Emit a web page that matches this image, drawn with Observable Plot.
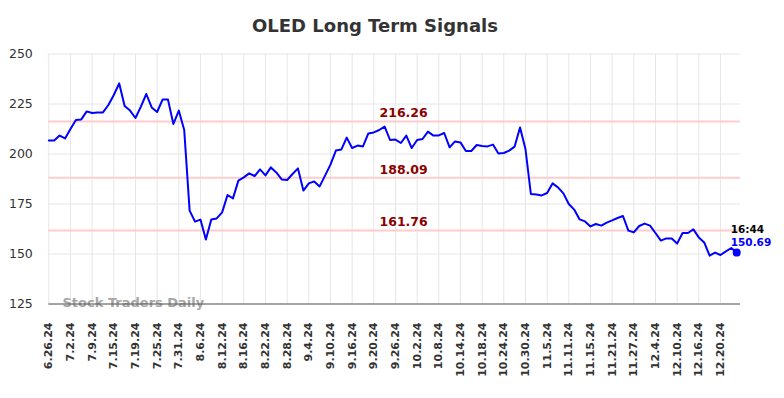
<!DOCTYPE html>
<html><head><meta charset="utf-8">
<script src="https://cdn.jsdelivr.net/npm/d3@7"></script>
<script src="https://cdn.jsdelivr.net/npm/@observablehq/plot@0.6"></script>
<style>
body{margin:0;background:#fff;font-family:"DejaVu Sans",sans-serif;}
#title{height:40px;position:relative;width:784px;}
#title span{position:absolute;left:375px;top:17px;transform:translateX(-50%);font-weight:bold;font-size:18px;line-height:18px;color:#333;white-space:nowrap;}
</style></head><body>
<div id="title"><span>OLED Long Term Signals</span></div>
<div id="chart"></div>
<script>
const dates = ["6.26.24","6.27.24","6.28.24","7.1.24","7.2.24","7.3.24","7.5.24","7.8.24","7.9.24","7.10.24",
"7.11.24","7.12.24","7.15.24","7.16.24","7.17.24","7.18.24","7.19.24","7.22.24","7.23.24","7.24.24",
"7.25.24","7.26.24","7.29.24","7.30.24","7.31.24","8.1.24","8.2.24","8.5.24","8.6.24","8.7.24",
"8.8.24","8.9.24","8.12.24","8.13.24","8.14.24","8.15.24","8.16.24","8.19.24","8.20.24","8.21.24",
"8.22.24","8.23.24","8.26.24","8.27.24","8.28.24","8.29.24","8.30.24","9.3.24","9.4.24","9.5.24",
"9.6.24","9.9.24","9.10.24","9.11.24","9.12.24","9.13.24","9.16.24","9.17.24","9.18.24","9.19.24",
"9.20.24","9.23.24","9.24.24","9.25.24","9.26.24","9.27.24","9.30.24","10.1.24","10.2.24","10.3.24",
"10.4.24","10.7.24","10.8.24","10.9.24","10.10.24","10.11.24","10.14.24","10.15.24","10.16.24","10.17.24",
"10.18.24","10.21.24","10.22.24","10.23.24","10.24.24","10.25.24","10.28.24","10.29.24","10.30.24","10.31.24",
"11.1.24","11.4.24","11.5.24","11.6.24","11.7.24","11.8.24","11.11.24","11.12.24","11.13.24","11.14.24",
"11.15.24","11.18.24","11.19.24","11.20.24","11.21.24","11.22.24","11.25.24","11.26.24","11.27.24","11.29.24",
"12.2.24","12.3.24","12.4.24","12.5.24","12.6.24","12.9.24","12.10.24","12.11.24","12.12.24","12.13.24",
"12.16.24","12.17.24","12.18.24","12.19.24","12.20.24","12.23.24","12.24.24","12.26.24"];
const values = [206.7,206.7,209.2,207.8,212.5,217,217.3,221.3,220.5,220.7,
220.8,224.5,229.5,235.3,224,221.7,218,223.7,230,223.3,
221,227.2,227.2,215,221.7,212,171.7,166.2,167.2,157.2,
167.2,167.8,170.8,179.5,177.8,186.7,188.3,190.3,189,192.3,
189.3,193.3,190.8,187.3,187,190,192.8,181.7,185.3,186.3,
183.8,189.2,194.7,201.7,202.2,208.2,203,204.2,203.8,210.3,
210.8,212,213.7,207,207.2,205.5,209.2,203,207,207.5,
211.2,209.2,209.3,210.5,203.3,206.3,205.8,201.5,201.5,204.5,
204,203.8,204.7,200.3,200.5,201.7,203.7,213.3,202.5,180,
179.8,179.3,180.5,185.3,183.3,180.3,175,172.2,167.3,166.3,
163.8,165,164.2,165.7,166.8,168,169,161.7,160.8,164,
165.2,164.2,160.5,156.7,157.8,157.7,155.2,160.5,160.5,162.3,
158.3,155.8,149.2,150.7,149.5,151.3,153,150.69];
const signalLevels = [216.26, 188.09, 161.76];
const yTicks = [125, 150, 175, 200, 225, 250];
const lastTime = "16:44";
const watermark = "Stock Traders Daily";

const data = values.map((v, i) => ({i, v, date: dates[i]}));
const last = data[data.length - 1];
const tickIdx = d3.range(0, dates.length, 4);

const chart = Plot.plot({
  width: 784, height: 358,
  marginTop: 13.5, marginBottom: 94.5, marginLeft: 48.3, marginRight: 44,
  style: {fontFamily: "DejaVu Sans", fontSize: "12px", color: "#333", background: "#fff"},
  x: {domain: [0, 127.7], label: null},
  y: {domain: [125, 250], label: null},
  marks: [
    Plot.gridX(tickIdx, {stroke: "#e6e6e6", strokeOpacity: 1, strokeWidth: 1}),
    Plot.gridY(yTicks, {stroke: "#e6e6e6", strokeOpacity: 1, strokeWidth: 1}),
    Plot.ruleY(signalLevels, {stroke: "#ffcccc", strokeWidth: 2}),
    Plot.text([watermark], {frameAnchor: "bottom-left", dx: 13.7, dy: 3, textAnchor: "start", lineAnchor: "bottom", fill: "#a6a6a6", fontWeight: "bold", fontSize: 13}),
    Plot.ruleY([125], {stroke: "#555", strokeWidth: 1}),
    Plot.axisY(yTicks, {label: null, tickSize: 0, tickPadding: 16, fontSize: 12.5, fill: "#333"}),
    Plot.axisX(tickIdx, {label: null, tickFormat: i => dates[i], tickRotate: -90, tickSize: 0, tickPadding: 18.5, fontSize: 11, fontWeight: "bold", fill: "#333"}),
    Plot.line(data, {x: "i", y: "v", stroke: "#0000ff", strokeWidth: 2}),
    Plot.dot([last], {x: "i", y: "v", r: 4, fill: "#0000ff"}),
    Plot.text(signalLevels, {y: d => d, frameAnchor: "middle", dx: 9, dy: -4, lineAnchor: "bottom", text: d => d.toFixed(2), fill: "#8b0000", fontWeight: "bold", fontSize: 12.5}),
    Plot.text([last], {x: "i", y: "v", text: () => lastTime, textAnchor: "start", lineAnchor: "bottom", dx: -6, dy: -19.5, fill: "#000", fontWeight: "bold", fontSize: 10.5}),
    Plot.text([last], {x: "i", y: "v", text: d => d.v.toFixed(2), textAnchor: "start", lineAnchor: "bottom", dx: -6, dy: -7, fill: "#0000ff", fontWeight: "bold", fontSize: 10.5})
  ]
});
document.getElementById("chart").appendChild(chart);
</script>
</body></html>
